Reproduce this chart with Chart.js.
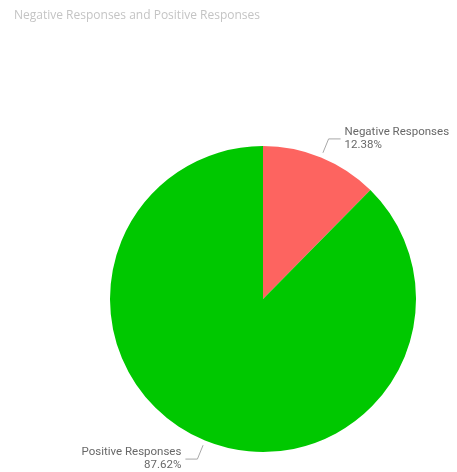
<!DOCTYPE html>
<html>
<head>
<meta charset="utf-8">
<script src="https://cdn.jsdelivr.net/npm/chart.js@4"></script>
<style>
  html, body { margin:0; padding:0; background:#fff; }
  #wrap { width:457px; height:472px; position:relative; }
</style>
</head>
<body>
<div id="wrap"><canvas id="chartPie"></canvas></div>
<script>
// dados do gráfico
const chartTitle = 'Negative Responses and Positive Responses';
const categories = ['Negative Responses', 'Positive Responses'];
const values = [12.38, 87.62];
const sliceColors = ['#FD6460', '#00C800'];

// rótulos com linha de chamada (estilo Power BI)
const calloutLabels = {
  id: 'calloutLabels',
  afterDraw(chart){
    const ctx = chart.ctx;
    ctx.save();
    // título
    ctx.font = '12px "Segoe UI", "Open Sans", sans-serif';
    ctx.fillStyle = '#c4c4c4';
    ctx.textBaseline = 'middle';
    ctx.textAlign = 'left';
    ctx.fillText(chartTitle, 14, 16);

    const total = values.reduce((a, b) => a + b, 0);
    const meta = chart.getDatasetMeta(0);
    meta.data.forEach(function(arc, i){
      const p = arc.getProps(['x','y','startAngle','endAngle','outerRadius'], true);
      const mid = (p.startAngle + p.endAngle) / 2;
      const cos = Math.cos(mid), sin = Math.sin(mid);
      const x0 = p.x + cos * (p.outerRadius + 5);
      const y0 = p.y + sin * (p.outerRadius + 5);
      const x1 = p.x + cos * (p.outerRadius + 20);
      const y1 = p.y + sin * (p.outerRadius + 20);
      const right = cos >= 0;
      const x2 = x1 + (right ? 12 : -12);
      ctx.strokeStyle = '#a8a8a8';
      ctx.lineWidth = 1;
      ctx.beginPath();
      ctx.moveTo(x0, y0);
      ctx.lineTo(x1, y1);
      ctx.lineTo(x2, y1);
      ctx.stroke();
      const pct = (values[i] / total * 100).toFixed(2) + '%';
      ctx.font = '11.5px Roboto, "Liberation Sans", sans-serif';
      ctx.fillStyle = '#686868';
      ctx.textAlign = right ? 'left' : 'right';
      const tx = x2 + (right ? 4 : -4);
      ctx.fillText(categories[i], tx, y1 - 7);
      ctx.fillText(pct, tx, y1 + 6);
    });
    ctx.restore();
  }
};

new Chart(document.getElementById('chartPie').getContext('2d'), {
  type: 'pie',
  data: {
    labels: categories,
    datasets: [{ data: values, backgroundColor: sliceColors, borderWidth: 0 }]
  },
  options: {
    responsive: true,
    maintainAspectRatio: false,
    animation: false,
    layout: { padding: { left: 110, right: 41, top: 146, bottom: 20 } },
    plugins: { legend: { display: false }, tooltip: { enabled: false } }
  },
  plugins: [calloutLabels]
});
</script>
</body>
</html>
